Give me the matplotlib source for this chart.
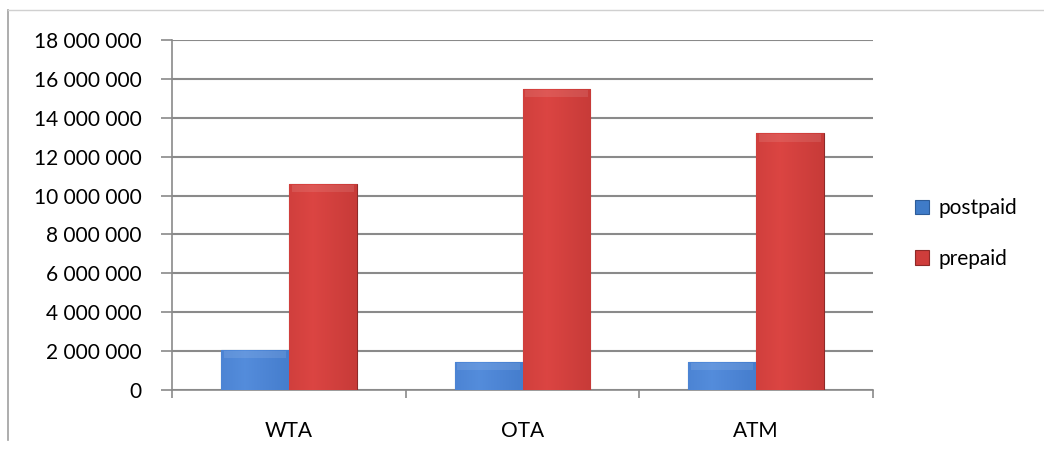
import matplotlib.pyplot as plt
import matplotlib.lines as mlines
import numpy as np
from matplotlib.ticker import FuncFormatter, FixedLocator

categories = ['WTA', 'OTA', 'ATM']
postpaid = [2060000, 1440000, 1440000]
prepaid = [10600000, 15500000, 13200000]

plt.rcParams['font.family'] = ['Lato', 'DejaVu Sans']

fig = plt.figure(figsize=(10.44, 4.5), dpi=100)
ax = fig.add_axes([0.1648, 0.1333, 0.6714, 0.7778])

x = np.arange(len(categories))
width = 0.29

blue_bars = ax.bar(x - width / 2, postpaid, width, color='#3F7BC8', edgecolor='#2D5C99',
                   linewidth=0.8, label='postpaid', zorder=3)
red_bars = ax.bar(x + width / 2, prepaid, width, color='#CF3D3B', edgecolor='#8E2A28',
                  linewidth=0.8, label='prepaid', zorder=3)


# fake the bevelled Excel look with a gradient clipped to each bar
def shade(bars, light, dark):
    grad = np.linspace(0, 1, 64)
    shape = 1 - 0.6 * np.abs(grad - 0.35)
    light = np.array(light)
    dark = np.array(dark)
    img = dark[None, :] + (light - dark)[None, :] * shape[:, None]
    img = img[None, :, :]
    for b in bars:
        x0, y0 = b.get_x(), b.get_y()
        w, h = b.get_width(), b.get_height()
        im = ax.imshow(img, extent=[x0, x0 + w, y0, y0 + h], aspect='auto', zorder=3.5,
                       interpolation='bilinear')
        im.set_clip_path(b)
        # lighter top bevel band
        ax.fill_between([x0 + w * 0.04, x0 + w * 0.96], y0 + h - 420000, y0 + h - 50000,
                        color='white', alpha=0.10, zorder=3.6, linewidth=0)


shade(blue_bars, (0.33, 0.55, 0.86), (0.18, 0.40, 0.72))
shade(red_bars, (0.86, 0.27, 0.26), (0.66, 0.17, 0.16))

ax.set_xlim(-0.5, 2.5)
ax.set_ylim(0, 18000000)
ax.yaxis.set_major_locator(FixedLocator(np.arange(0, 18000001, 2000000)))
ax.yaxis.set_major_formatter(FuncFormatter(lambda v, p: f'{int(v):,}'.replace(',', ' ')))
ax.yaxis.grid(True, color='#8A8A8A', linewidth=1.5, zorder=0)

ax.set_xticks(x)
ax.set_xticklabels(categories)
ax.xaxis.set_minor_locator(FixedLocator([-0.5, 0.5, 1.5, 2.5]))
ax.tick_params(axis='x', which='major', length=0, pad=22, labelsize=15)
ax.tick_params(axis='x', which='minor', length=6, color='#8A8A8A', width=1.2)
ax.tick_params(axis='y', length=8, color='#8A8A8A', width=1.2, labelsize=15, pad=14)

for s in ['top', 'right']:
    ax.spines[s].set_visible(False)
for s in ['left', 'bottom']:
    ax.spines[s].set_color('#8A8A8A')
    ax.spines[s].set_linewidth(1.2)

leg = ax.legend(loc='center left', bbox_to_anchor=(1.033, 0.447), frameon=False, fontsize=15,
                handlelength=0.7, handleheight=0.7, labelspacing=1.45, handletextpad=0.45)

# outer chart border (left and top only visible in the crop)
fig.add_artist(mlines.Line2D([8 / 1044, 8 / 1044], [1 - 10 / 450, 1 - 440 / 450],
                             color='#A0A0A0', linewidth=1.2))
fig.add_artist(mlines.Line2D([8 / 1044, 1.0], [1 - 10 / 450, 1 - 10 / 450],
                             color='#D0D0D0', linewidth=1.0))

fig.savefig('out.png', dpi=100)
